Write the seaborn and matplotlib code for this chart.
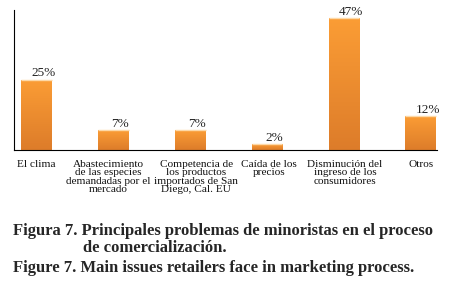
import numpy as np
import matplotlib.pyplot as plt
import matplotlib.colors as mcolors
import matplotlib.transforms as mtransforms
import pandas as pd
import seaborn as sns

categories = ['El clima',
              'Abastecimiento\nde las especies\ndemandadas por el\nmercado',
              'Competencia de\nlos productos\nimportados de San\nDiego, Cal. EU',
              'Caída de los\nprecios',
              'Disminución del\ningreso de los\nconsumidores',
              'Otros']
values = [25, 7, 7, 2, 47, 12]

caption_es_1 = 'Figura 7. Principales problemas de minoristas en el proceso'
caption_es_2 = 'de comercialización.'
caption_en = 'Figure 7. Main issues retailers face in marketing process.'

df = pd.DataFrame({'cat': categories, 'pct': values})

sns.set_theme(style='white')
plt.rcParams['font.family'] = ['Liberation Serif', 'DejaVu Serif']

fig = plt.figure(figsize=(4.57, 2.90), dpi=100)
ax = fig.add_axes([0.031, 0.483, 0.925, 0.483])

sns.barplot(data=df, x='cat', y='pct', color='#F0902F', width=0.4,
            saturation=1, ax=ax)

# orange gradient fill inside each bar
grad = np.linspace(0, 1, 256).reshape(-1, 1)
cmap = mcolors.LinearSegmentedColormap.from_list('og', ['#FB9D35', '#DD7C2A'])
for p in ax.patches:
    x0, y0 = p.get_x(), p.get_y()
    w, h = p.get_width(), p.get_height()
    im = ax.imshow(grad, cmap=cmap, aspect='auto', origin='upper',
                   extent=[x0, x0 + w, y0, y0 + h], zorder=p.get_zorder() + 0.1)
    im.set_clip_path(p)
    ax.plot([x0, x0 + w], [y0 + h, y0 + h], color='#FDD9A8', lw=1,
            zorder=p.get_zorder() + 0.2, solid_capstyle='butt')

for i, v in enumerate(values):
    ax.annotate(f'{v}%', (i, v), xytext=(5, 0.5), textcoords='offset points',
                ha='center', va='bottom', fontsize=9.5, color='#222222')

ax.set_xlim(-0.29, 5.21)
ax.set_ylim(0, 50)
ax.set_xlabel('')
ax.set_ylabel('')
ax.set_yticks([])
ax.tick_params(axis='x', length=0, pad=7, labelsize=8.1, colors='#111111')
# nudge the two long middle labels apart, as in the original
nudge = [0, -0.05, 0.06, 0.02, 0.01, 0]
for lab, dx in zip(ax.get_xticklabels(), nudge):
    lab.set_linespacing(0.92)
    lab.set_verticalalignment('top')
    lab.set_transform(lab.get_transform() +
                      mtransforms.ScaledTranslation(dx, 0, fig.dpi_scale_trans))
sns.despine(ax=ax)
for s in ['left', 'bottom']:
    ax.spines[s].set_color('black')
    ax.spines[s].set_linewidth(0.8)

fig.text(0.029, 0.203, caption_es_1, fontsize=12, fontweight='bold',
         va='center', ha='left')
fig.text(0.182, 0.145, caption_es_2, fontsize=12, fontweight='bold',
         va='center', ha='left')
fig.text(0.029, 0.077, caption_en, fontsize=12, fontweight='bold',
         va='center', ha='left')

fig.savefig('out.png', dpi=100)
